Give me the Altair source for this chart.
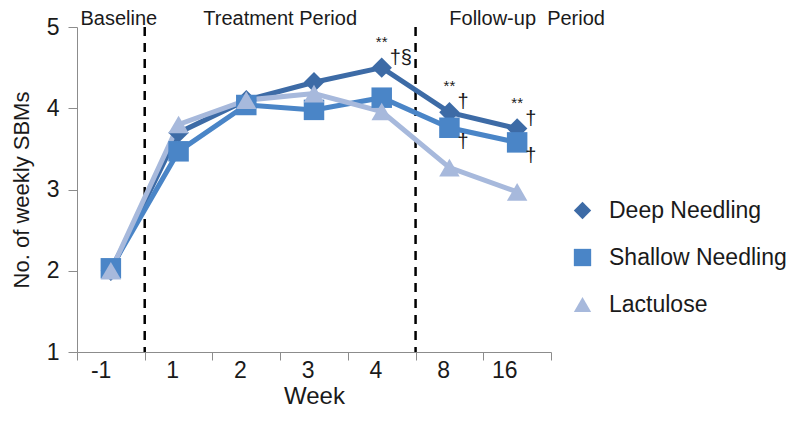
import altair as alt
import pandas as pd

# ---- data ----
weeks = ["-1", "1", "2", "3", "4", "8", "16"]
series_names = ["Deep Needling", "Shallow Needling", "Lactulose"]
deep = [2.00, 3.70, 4.10, 4.32, 4.50, 3.95, 3.75]
shallow = [2.03, 3.47, 4.04, 3.98, 4.13, 3.76, 3.58]
lactulose = [2.00, 3.80, 4.10, 4.18, 3.96, 3.27, 2.97]
y_ticks = [1, 2, 3, 4, 5]

period_labels = ["Baseline", "Treatment Period", "Follow-up\u00a0 Period"]
divider_weeks = ["-1", "4"]

star_weeks = ["4", "8", "16"]
deep_mark_weeks = ["4", "8", "16"]
deep_mark_texts = ["†§", "†", "†"]
shallow_mark_weeks = ["8", "16"]
shallow_mark_texts = ["†", "†"]

colors = ["#3d6ba6", "#4a85c7", "#a7b9dc"]
shapes = ["diamond", "square", "triangle-up"]

FONT = "Liberation Sans"
TXT = "#1a1a1a"
AXC = "#8c8c8c"

rows = []
for name, vals in zip(series_names, [deep, shallow, lactulose]):
    for w, v in zip(weeks, vals):
        rows.append({"week": w, "value": v, "series": name})
df = pd.DataFrame(rows)

x_scale = alt.Scale(type="band", domain=weeks, paddingInner=0, paddingOuter=0)
y_scale = alt.Scale(domain=[1, 5], nice=False, zero=False)

x_enc = alt.X(
    "week:O",
    scale=x_scale,
    sort=weeks,
    axis=alt.Axis(
        title="Week",
        tickBand="extent",
        labelAngle=0,
        labelFontSize=23,
        labelColor=TXT,
        labelPadding=10,
        tickSize=8,
        tickColor=AXC,
        domainColor=AXC,
        titleFontSize=24,
        titleFontWeight="normal",
        titleColor=TXT,
        titlePadding=2,
        grid=False,
    ),
)
y_enc = alt.Y(
    "value:Q",
    scale=y_scale,
    axis=alt.Axis(
        title="No. of weekly SBMs",
        values=y_ticks,
        format="d",
        labelFontSize=23,
        labelColor=TXT,
        labelPadding=9,
        tickSize=9,
        tickColor=AXC,
        domainColor=AXC,
        titleFontSize=22,
        titleFontWeight="normal",
        titleColor=TXT,
        titlePadding=13,
        grid=False,
    ),
)

legend = alt.Legend(
    title=None,
    orient="none",
    legendX=494,
    legendY=172,
    labelFontSize=23,
    labelColor=TXT,
    labelFont=FONT,
    labelLimit=0,
    symbolSize=300,
    symbolStrokeWidth=0,
    symbolOpacity=1,
    rowPadding=23,
    labelOffset=15,
    padding=0,
)

color_scale = alt.Scale(domain=series_names, range=colors)
shape_scale = alt.Scale(domain=series_names, range=shapes)

base = alt.Chart(df)

lines = base.mark_line(strokeWidth=5).encode(
    x=x_enc,
    y=y_enc,
    color=alt.Color("series:N", scale=color_scale, legend=None),
)

points = base.mark_point(filled=True, opacity=1, size=420).encode(
    x=x_enc,
    y=y_enc,
    color=alt.Color("series:N", scale=color_scale, legend=legend),
    shape=alt.Shape("series:N", scale=shape_scale, legend=legend),
)

dividers = alt.Chart(pd.DataFrame({"week": divider_weeks})).mark_rule(
    color="black", strokeWidth=2.5, strokeDash=[9, 7]
).encode(
    x=alt.X("week:O", bandPosition=1),
    y=alt.datum(5.0),
    y2=alt.datum(1),
)

def period_text(label, week, band_pos, dx):
    return alt.Chart(pd.DataFrame({"week": [week], "label": [label]})).mark_text(
        fontSize=20, font=FONT, color=TXT, align="center", baseline="alphabetic", dx=dx
    ).encode(
        x=alt.X("week:O", bandPosition=band_pos),
        y=alt.value(-2),
        text="label:N",
    )

t1 = period_text(period_labels[0], "-1", 0.5, 8)
t2 = period_text(period_labels[1], "2", 1.0, 0)
t3 = period_text(period_labels[2], "16", 0.5, 10)

deep_df = df[df.series == "Deep Needling"]
shallow_df = df[df.series == "Shallow Needling"]

stars = alt.Chart(deep_df[deep_df.week.isin(star_weeks)].assign(t="**")).mark_text(
    fontSize=15, font=FONT, color=TXT, align="center", baseline="middle", dy=-26
).encode(x=alt.X("week:O"), y=alt.Y("value:Q"), text="t:N")

deep_marks_df = pd.DataFrame({"week": deep_mark_weeks, "t": deep_mark_texts}).merge(
    deep_df[["week", "value"]], on="week"
)
deep_marks = alt.Chart(deep_marks_df).mark_text(
    fontSize=20, font=FONT, color=TXT, align="left", baseline="middle", dx=8, dy=-10
).encode(x=alt.X("week:O"), y=alt.Y("value:Q"), text="t:N")

shallow_marks_df = pd.DataFrame({"week": shallow_mark_weeks, "t": shallow_mark_texts}).merge(
    shallow_df[["week", "value"]], on="week"
)
shallow_marks = alt.Chart(shallow_marks_df).mark_text(
    fontSize=20, font=FONT, color=TXT, align="left", baseline="middle", dx=8, dy=14
).encode(x=alt.X("week:O"), y=alt.Y("value:Q"), text="t:N")

chart = alt.layer(
    dividers, lines, points, t1, t2, t3, stars, deep_marks, shallow_marks
).resolve_legend(
    color="independent", shape="independent"
).properties(
    width=474,
    height=325,
    autosize=alt.AutoSizeParams(type="none"),
    padding={"left": 69, "top": 19, "right": 241, "bottom": 63},
).configure(
    font=FONT,
).configure_view(
    stroke=None,
)

chart.save("out.html", embed_options={"renderer": "svg", "actions": False})
